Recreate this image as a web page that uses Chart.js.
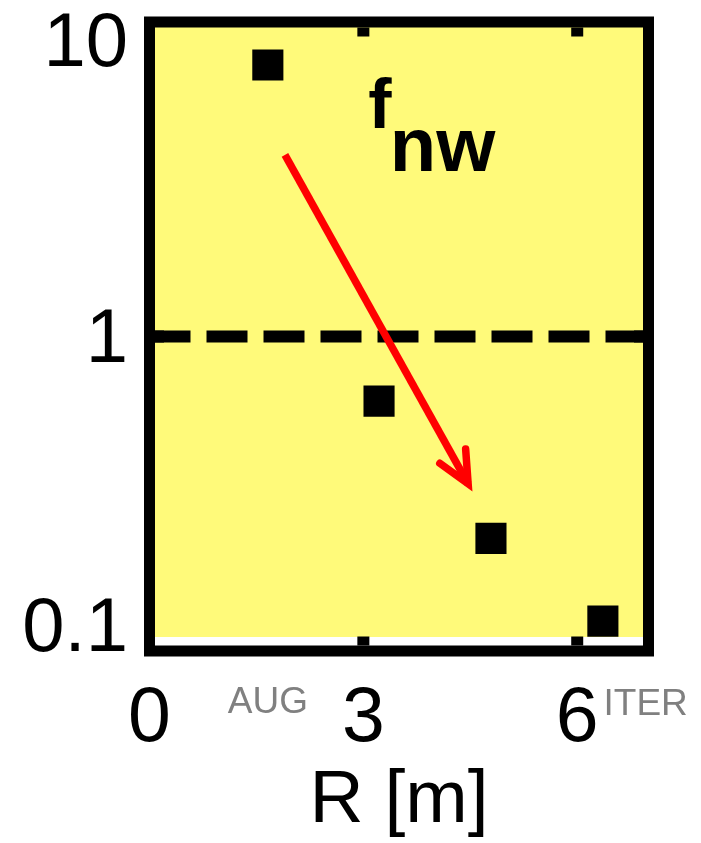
<!DOCTYPE html>
<html>
<head>
<meta charset="utf-8">
<script src="https://cdn.jsdelivr.net/npm/chart.js@4.4.1/dist/chart.umd.min.js"></script>
<style>
  html, body { margin: 0; padding: 0; background: #fff; }
  #wrap { width: 701px; height: 843px; }
</style>
</head>
<body>
<div id="wrap"><canvas id="c" width="701" height="843"></canvas></div>
<script>
// Major radius of each device and its f_nw value
const radiusR = [1.66, 3.22, 4.79, 6.36];
const fnwValues = [7.30, 0.623, 0.228, 0.1245];

// Axis ticks
const xTickValues = [0, 3, 6];
const xTickLabels = ['0', '3', '6'];
const yTickValues = [0.1, 1, 10];
const yTickLabels = ['0.1', '1', '10'];

// Horizontal reference at f_nw = 1
const referenceLevel = [1, 1];
const referenceSpan = [0, 7];

// Trend arrow (start, tip)
const trendR = [1.90, 4.47];
const trendF = [3.78, 0.340];

// Device names under the axis
const deviceNames = ['AUG', 'ITER'];
const deviceNameR = [1.66, 6.96];

// Symbol label anchor
const symbolAnchor = { x: 3.09, y: 4.59 };

const FONT = '"Liberation Sans", Arial, Helvetica, sans-serif';
Chart.defaults.font.family = FONT;

const ARROW_WIDTH = 7.5;

const framePlugin = {
  id: 'frame',
  beforeDatasetsDraw(chart) {
    const { ctx, chartArea: a } = chart;
    ctx.save();
    ctx.fillStyle = 'rgb(255,250,122)';
    ctx.fillRect(a.left, a.top, a.right - a.left, a.bottom - a.top - 14);
    ctx.restore();
  },
  afterDatasetsDraw(chart) {
    const { ctx, chartArea: a, scales: { x, y } } = chart;

    // arrowhead at the end of the trend line
    const meta = chart.getDatasetMeta(1);
    const p0 = meta.data[0], p1 = meta.data[1];
    const ang = Math.atan2(p1.y - p0.y, p1.x - p0.x);
    const len = 35, spread = 25 * Math.PI / 180;
    ctx.save();
    ctx.strokeStyle = '#ff0000';
    ctx.lineWidth = ARROW_WIDTH;
    ctx.lineCap = 'round';
    ctx.lineJoin = 'miter';
    ctx.beginPath();
    ctx.moveTo(p1.x - len * Math.cos(ang - spread), p1.y - len * Math.sin(ang - spread));
    ctx.lineTo(p1.x, p1.y);
    ctx.lineTo(p1.x - len * Math.cos(ang + spread), p1.y - len * Math.sin(ang + spread));
    ctx.stroke();
    ctx.restore();

    // heavy box frame
    ctx.save();
    ctx.strokeStyle = '#000';
    ctx.lineWidth = 11;
    ctx.lineJoin = 'miter';
    ctx.strokeRect(a.left, a.top, a.right - a.left, a.bottom - a.top);

    // inward tick marks
    ctx.fillStyle = '#000';
    const inner = 5.5, tl = 9, tw = 12;
    x.ticks.forEach(t => {
      if (t.value <= x.min || t.value >= x.max) return;
      const px = x.getPixelForValue(t.value);
      ctx.fillRect(px - tw / 2, a.top + inner, tw, tl);
      ctx.fillRect(px - tw / 2, a.bottom - inner - tl, tw, tl);
    });
    y.ticks.forEach(t => {
      if (t.value <= y.min || t.value >= y.max) return;
      const py = y.getPixelForValue(t.value);
      ctx.fillRect(a.left + inner, py - tw / 2, tl, tw);
      ctx.fillRect(a.right - inner - tl, py - tw / 2, tl, tw);
    });
    ctx.restore();
  },
  afterDraw(chart) {
    const { ctx, chartArea: a, scales: { x, y } } = chart;
    ctx.save();

    // y tick labels, kept inside the frame height at the ends
    ctx.fillStyle = '#000';
    ctx.font = '76px ' + FONT;
    ctx.textAlign = 'right';
    ctx.textBaseline = 'alphabetic';
    y.ticks.forEach(t => {
      const i = yTickValues.indexOf(t.value);
      const label = i >= 0 ? yTickLabels[i] : String(t.value);
      const py = y.getPixelForValue(t.value);
      const by = Math.min(Math.max(py + 25, a.top + 44), a.bottom);
      ctx.fillText(label, a.left - 21.5, by);
    });

    // f_nw symbol
    ctx.textAlign = 'left';
    const sx = x.getPixelForValue(symbolAnchor.x);
    const sy = y.getPixelForValue(symbolAnchor.y);
    ctx.font = 'bold 70px ' + FONT;
    ctx.fillText('f', sx - 1.5, sy);
    ctx.font = 'bold 76px ' + FONT;
    ctx.fillText('nw', sx + 20, sy + 43);

    // device names
    ctx.fillStyle = '#808080';
    ctx.font = '37px ' + FONT;
    ctx.textAlign = 'center';
    deviceNames.forEach((name, i) => {
      ctx.fillText(name, x.getPixelForValue(deviceNameR[i]), a.bottom + 62 + i * 2);
    });
    ctx.restore();
  }
};

new Chart(document.getElementById('c'), {
  type: 'scatter',
  data: {
    datasets: [
      {
        label: 'f_nw',
        data: radiusR.map((r, i) => ({ x: r, y: fnwValues[i] })),
        pointStyle: 'rect',
        pointRadius: 22,
        pointHoverRadius: 22,
        backgroundColor: '#000',
        borderWidth: 0
      },
      {
        label: 'trend',
        type: 'line',
        data: trendR.map((r, i) => ({ x: r, y: trendF[i] })),
        borderColor: '#ff0000',
        borderWidth: ARROW_WIDTH,
        borderCapStyle: 'butt',
        pointRadius: 0,
        fill: false
      },
      {
        label: 'f_nw = 1',
        type: 'line',
        data: referenceSpan.map((r, i) => ({ x: r, y: referenceLevel[i] })),
        borderColor: '#000',
        borderWidth: 12,
        borderDash: [41, 16],
        borderCapStyle: 'butt',
        pointRadius: 0,
        fill: false
      }
    ]
  },
  options: {
    responsive: false,
    animation: false,
    devicePixelRatio: 1,
    layout: { padding: { left: 0, right: 52.5, top: 17.5, bottom: 0 } },
    plugins: { legend: { display: false }, tooltip: { enabled: false } },
    scales: {
      x: {
        type: 'linear',
        position: 'bottom',
        min: 0,
        max: 7,
        grid: { display: false, drawTicks: false },
        border: { display: false },
        afterBuildTicks: s => { s.ticks = xTickValues.map(v => ({ value: v })); },
        ticks: {
          callback: v => { const i = xTickValues.indexOf(v); return i >= 0 ? xTickLabels[i] : ''; },
          font: { size: 77 },
          color: '#000',
          padding: 23,
          maxRotation: 0,
          autoSkip: false
        },
        title: {
          display: true,
          text: 'R [m]',
          color: '#000',
          font: { size: 75, lineHeight: 1.12 },
          padding: 0
        },
        afterFit: s => { s.height = 192; }
      },
      y: {
        type: 'logarithmic',
        min: 0.1,
        max: 10,
        grid: { display: false, drawTicks: false },
        border: { display: false },
        afterBuildTicks: s => { s.ticks = yTickValues.map(v => ({ value: v })); },
        ticks: { display: false },
        afterFit: s => { s.width = 149.5; }
      }
    }
  },
  plugins: [framePlugin]
});
</script>
</body>
</html>
